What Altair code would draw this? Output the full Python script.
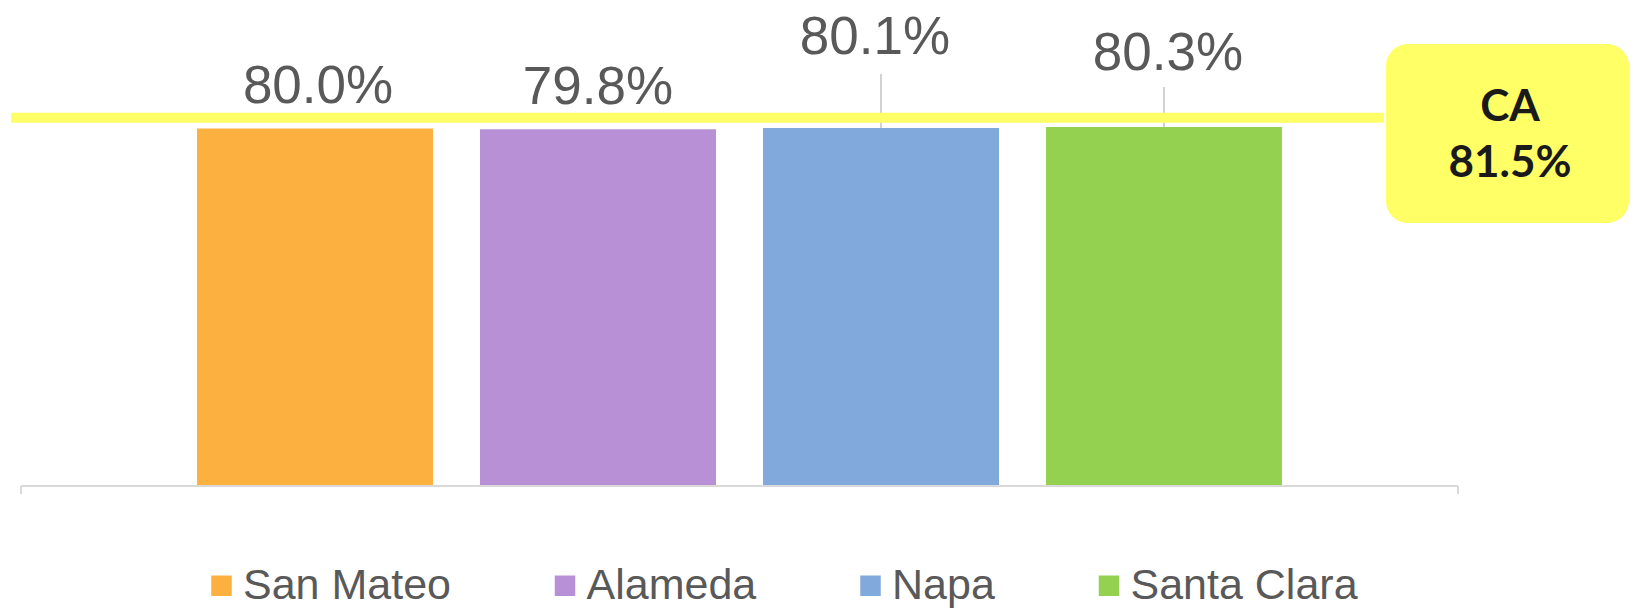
import altair as alt
import pandas as pd

# ---- data ----
counties = ["San Mateo", "Alameda", "Napa", "Santa Clara"]
rates = [80.0, 79.8, 80.1, 80.3]
colors = ["#FBB040", "#B890D6", "#82A9DB", "#94D150"]
ca_label = "CA"
ca_rate = 81.5

# ---- styling (label placement tweaks, pixels) ----
label_dy = [-25, -25, -74, -57]
label_dx = [3, 0, -6, 4]
leader_px = [0, 0, 54, 40]

W, H = 1437, 447
px_per_unit = H / 100.0

df = pd.DataFrame({"county": counties, "rate": rates})
df["label"] = [f"{v:.1f}%" for v in rates]
df["lead_top"] = [v + p / px_per_unit for v, p in zip(rates, leader_px)]

xsc = alt.Scale(domain=counties, paddingInner=0.166, paddingOuter=0.622)
ysc = alt.Scale(domain=[0, 100], nice=False, zero=True)

x = alt.X("county:N", scale=xsc, axis=None, sort=counties)
y = alt.Y("rate:Q", scale=ysc, axis=None)

bars = alt.Chart(df).mark_bar().encode(
    x=x,
    y=y,
    color=alt.Color(
        "county:N",
        sort=counties,
        scale=alt.Scale(domain=counties, range=colors),
        legend=alt.Legend(
            title=None,
            orient="none",
            direction="horizontal",
            legendX=179,
            legendY=525,
            symbolType="square",
            symbolSize=420,
            symbolStrokeWidth=0,
            labelFontSize=43,
            labelFont="Liberation Sans",
            labelColor="#595959",
            labelOffset=0,
            labelLimit=400,
            columnPadding=92.5,
        ),
    ),
)

label_layers = []
for i, c in enumerate(counties):
    label_layers.append(
        alt.Chart(df[df.county == c]).mark_text(
            font="Liberation Sans",
            fontSize=53,
            color="#595959",
            baseline="alphabetic",
            dy=label_dy[i],
            dx=label_dx[i],
        ).encode(x=x, y=y, text="label:N")
    )

leaders = alt.Chart(df[df.lead_top > df.rate]).mark_rule(
    color="#A6A6A6", strokeWidth=1
).encode(x=x, y=y, y2="lead_top:Q")

ca_df = pd.DataFrame({"name": [ca_label], "rate": [ca_rate], "txt": [f"{ca_rate:.1f}%"]})

ca_line = alt.Chart(ca_df).mark_rule(color="#FFFF66", strokeWidth=10).encode(
    y=alt.Y("rate:Q", scale=ysc, axis=None),
    yOffset=alt.value(-4),
    x=alt.value(-10),
    x2=alt.value(1363),
)

ca_box = alt.Chart(ca_df).mark_rect(color="#FFFF66", cornerRadius=22).encode(
    x=alt.value(1365), x2=alt.value(1608), y=alt.value(5), y2=alt.value(184)
)
ca_name = alt.Chart(ca_df).mark_text(
    font="Lato", fontWeight="bold", fontSize=44, color="#1a1a1a", baseline="middle"
).encode(x=alt.value(1489), y=alt.value(69), text="name:N")
ca_val = alt.Chart(ca_df).mark_text(
    font="Lato", fontWeight="bold", fontSize=44, color="#1a1a1a", baseline="middle"
).encode(x=alt.value(1489), y=alt.value(125), text="txt:N")

axis_df = pd.DataFrame({"k": [0]})
axis_line = alt.Chart(axis_df).mark_rule(color="#D9D9D9", strokeWidth=2).encode(
    x=alt.value(0), x2=alt.value(W), y=alt.value(H)
)
tick_l = alt.Chart(axis_df).mark_rule(color="#D9D9D9", strokeWidth=2).encode(
    x=alt.value(0), y=alt.value(H), y2=alt.value(H + 8)
)
tick_r = alt.Chart(axis_df).mark_rule(color="#D9D9D9", strokeWidth=2).encode(
    x=alt.value(W), y=alt.value(H), y2=alt.value(H + 8)
)

chart = alt.layer(
    bars, axis_line, tick_l, tick_r, leaders, *label_layers, ca_line, ca_box, ca_name, ca_val
).properties(
    width=W,
    height=H,
    autosize=alt.AutoSizeParams(type="none"),
    padding={"left": 13, "top": 31, "right": 173, "bottom": 122},
).configure_view(stroke=None)

chart.save("out.html", embed_options={"renderer": "svg", "actions": False})
